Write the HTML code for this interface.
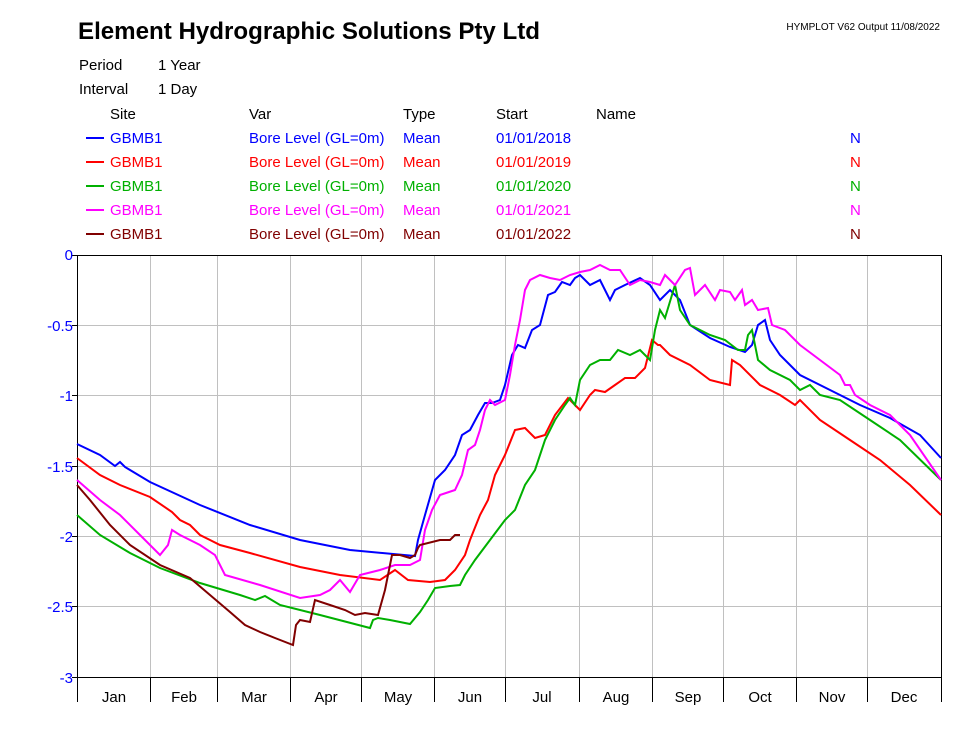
<!DOCTYPE html>
<html><head><meta charset="utf-8"><style>
body{margin:0;background:#fff;}
svg text{font-family:"Liberation Sans",Arial,sans-serif;}
</style></head><body>
<svg width="968" height="726" xmlns="http://www.w3.org/2000/svg">
<rect width="968" height="726" fill="#fff"/>
<text x="78" y="39" font-size="24" font-weight="bold" textLength="462" lengthAdjust="spacingAndGlyphs">Element Hydrographic Solutions Pty Ltd</text>
<text x="940" y="30" font-size="10" text-anchor="end">HYMPLOT V62  Output 11/08/2022</text>
<g font-size="15">
<text x="79" y="70">Period</text><text x="158" y="70">1 Year</text>
<text x="79" y="94">Interval</text><text x="158" y="94">1 Day</text>
<text x="110" y="119">Site</text><text x="249" y="119">Var</text><text x="403" y="119">Type</text><text x="496" y="119">Start</text><text x="596" y="119">Name</text>
<g fill="#0000ff"><line x1="86" y1="138" x2="104" y2="138" stroke="#0000ff" stroke-width="2"/><text x="110" y="143">GBMB1</text><text x="249" y="143">Bore Level (GL=0m)</text><text x="403" y="143">Mean</text><text x="496" y="143">01/01/2018</text><text x="850" y="143">N</text></g>
<g fill="#ff0000"><line x1="86" y1="162" x2="104" y2="162" stroke="#ff0000" stroke-width="2"/><text x="110" y="167">GBMB1</text><text x="249" y="167">Bore Level (GL=0m)</text><text x="403" y="167">Mean</text><text x="496" y="167">01/01/2019</text><text x="850" y="167">N</text></g>
<g fill="#00b000"><line x1="86" y1="186" x2="104" y2="186" stroke="#00b000" stroke-width="2"/><text x="110" y="191">GBMB1</text><text x="249" y="191">Bore Level (GL=0m)</text><text x="403" y="191">Mean</text><text x="496" y="191">01/01/2020</text><text x="850" y="191">N</text></g>
<g fill="#ff00ff"><line x1="86" y1="210" x2="104" y2="210" stroke="#ff00ff" stroke-width="2"/><text x="110" y="215">GBMB1</text><text x="249" y="215">Bore Level (GL=0m)</text><text x="403" y="215">Mean</text><text x="496" y="215">01/01/2021</text><text x="850" y="215">N</text></g>
<g fill="#800000"><line x1="86" y1="234" x2="104" y2="234" stroke="#800000" stroke-width="2"/><text x="110" y="239">GBMB1</text><text x="249" y="239">Bore Level (GL=0m)</text><text x="403" y="239">Mean</text><text x="496" y="239">01/01/2022</text><text x="850" y="239">N</text></g>
</g>
<g stroke="#c0c0c0" stroke-width="1">
<line x1="77" y1="325.5" x2="941" y2="325.5"/><line x1="77" y1="395.5" x2="941" y2="395.5"/><line x1="77" y1="466.5" x2="941" y2="466.5"/><line x1="77" y1="536.5" x2="941" y2="536.5"/><line x1="77" y1="606.5" x2="941" y2="606.5"/>
<line x1="150.5" y1="255" x2="150.5" y2="677"/><line x1="217.5" y1="255" x2="217.5" y2="677"/><line x1="290.5" y1="255" x2="290.5" y2="677"/><line x1="361.5" y1="255" x2="361.5" y2="677"/><line x1="434.5" y1="255" x2="434.5" y2="677"/><line x1="505.5" y1="255" x2="505.5" y2="677"/><line x1="579.5" y1="255" x2="579.5" y2="677"/><line x1="652.5" y1="255" x2="652.5" y2="677"/><line x1="723.5" y1="255" x2="723.5" y2="677"/><line x1="796.5" y1="255" x2="796.5" y2="677"/><line x1="867.5" y1="255" x2="867.5" y2="677"/>
</g>
<g stroke="#000" stroke-width="1">
<line x1="77" y1="255.5" x2="941" y2="255.5"/><line x1="77" y1="677.5" x2="941" y2="677.5"/>
<line x1="77.5" y1="255" x2="77.5" y2="702"/><line x1="941.5" y1="255" x2="941.5" y2="702"/>
<line x1="150.5" y1="677" x2="150.5" y2="702"/><line x1="217.5" y1="677" x2="217.5" y2="702"/><line x1="290.5" y1="677" x2="290.5" y2="702"/><line x1="361.5" y1="677" x2="361.5" y2="702"/><line x1="434.5" y1="677" x2="434.5" y2="702"/><line x1="505.5" y1="677" x2="505.5" y2="702"/><line x1="579.5" y1="677" x2="579.5" y2="702"/><line x1="652.5" y1="677" x2="652.5" y2="702"/><line x1="723.5" y1="677" x2="723.5" y2="702"/><line x1="796.5" y1="677" x2="796.5" y2="702"/><line x1="867.5" y1="677" x2="867.5" y2="702"/>
<line x1="72" y1="255.5" x2="77" y2="255.5"/><line x1="72" y1="325.5" x2="77" y2="325.5"/><line x1="72" y1="395.5" x2="77" y2="395.5"/><line x1="72" y1="466.5" x2="77" y2="466.5"/><line x1="72" y1="536.5" x2="77" y2="536.5"/><line x1="72" y1="606.5" x2="77" y2="606.5"/><line x1="72" y1="677.5" x2="77" y2="677.5"/>
</g>
<g font-size="15" fill="#0000ff" text-anchor="end">
<text x="73" y="260">0</text><text x="73" y="331">-0.5</text><text x="73" y="401">-1</text><text x="73" y="472">-1.5</text><text x="73" y="542">-2</text><text x="73" y="612">-2.5</text><text x="73" y="683">-3</text>
</g>
<g font-size="15" text-anchor="middle">
<text x="114" y="702">Jan</text><text x="184" y="702">Feb</text><text x="254" y="702">Mar</text><text x="326" y="702">Apr</text><text x="398" y="702">May</text><text x="470" y="702">Jun</text><text x="542" y="702">Jul</text><text x="616" y="702">Aug</text><text x="688" y="702">Sep</text><text x="760" y="702">Oct</text><text x="832" y="702">Nov</text><text x="904" y="702">Dec</text>
</g>
<g fill="none" stroke-width="2" stroke-linejoin="miter">
<polyline stroke="#0000ff" points="77,444 100,455 115,466 120,462 125,467 150,482 200,505 250,525 300,540 350,550 415,556 418,540 425,515 435,480 445,470 455,455 462,435 470,430 478,415 485,403 492,403 500,400 505,385 512,355 518,345 525,348 532,330 540,325 548,295 555,292 562,282 570,285 575,278 580,275 590,285 600,280 610,300 615,290 625,285 640,278 650,285 660,300 670,290 680,300 690,325 710,338 730,347 745,352 752,345 755,335 758,325 765,320 770,340 780,355 800,375 830,390 860,405 890,418 920,435 941,458"/>
<polyline stroke="#ff0000" points="77,458 100,475 120,485 150,497 172,512 180,520 190,525 200,535 210,540 220,545 250,553 300,567 340,575 380,580 395,570 408,580 430,582 445,580 455,570 465,555 470,540 480,515 488,500 495,475 505,455 515,430 525,428 535,438 545,435 555,415 568,398 580,410 590,395 595,390 605,392 615,385 625,378 635,378 645,368 652,340 658,345 660,345 670,355 690,365 710,380 730,385 732,360 740,365 760,385 780,395 795,405 800,400 820,420 850,440 880,460 910,485 941,515"/>
<polyline stroke="#00b000" points="77,515 100,535 130,553 160,568 200,583 240,595 255,600 265,596 280,605 320,615 370,628 373,620 378,618 390,620 410,624 420,612 428,600 435,588 450,586 460,585 465,575 475,560 490,540 505,520 515,510 525,485 535,470 545,440 555,420 565,405 570,398 575,405 580,380 590,365 600,360 610,360 618,350 630,355 640,350 650,360 655,330 660,310 665,318 675,285 680,310 690,325 700,330 710,335 725,340 738,350 745,350 748,335 752,330 758,360 770,370 790,380 800,390 810,385 820,395 840,400 870,420 900,440 941,480"/>
<polyline stroke="#ff00ff" points="77,480 100,500 120,515 140,535 160,555 168,545 172,530 180,535 200,545 215,555 225,575 260,585 300,598 320,595 330,590 340,580 350,592 360,575 380,570 395,565 410,565 420,560 425,530 432,510 440,495 455,490 462,475 468,450 475,445 480,430 485,410 490,400 495,405 505,400 510,375 515,345 520,320 525,290 530,280 540,275 550,278 560,280 570,275 580,272 590,270 600,265 610,270 620,270 630,285 640,280 650,282 660,285 665,275 675,285 685,270 690,268 695,295 705,285 715,300 720,290 730,292 735,300 742,290 745,305 752,300 758,310 768,308 772,325 785,330 800,345 820,360 840,375 845,385 850,385 855,395 870,405 890,415 910,435 941,480"/>
<polyline stroke="#800000" points="77,485 90,500 110,525 130,545 160,565 190,578 210,595 230,612 245,625 260,632 275,638 293,645 296,625 300,620 310,622 315,600 330,605 345,610 355,615 365,613 378,615 385,590 392,555 400,555 410,558 415,555 418,548 420,545 440,540 450,540 455,535 460,535"/>
</g>
</svg>
</body></html>
